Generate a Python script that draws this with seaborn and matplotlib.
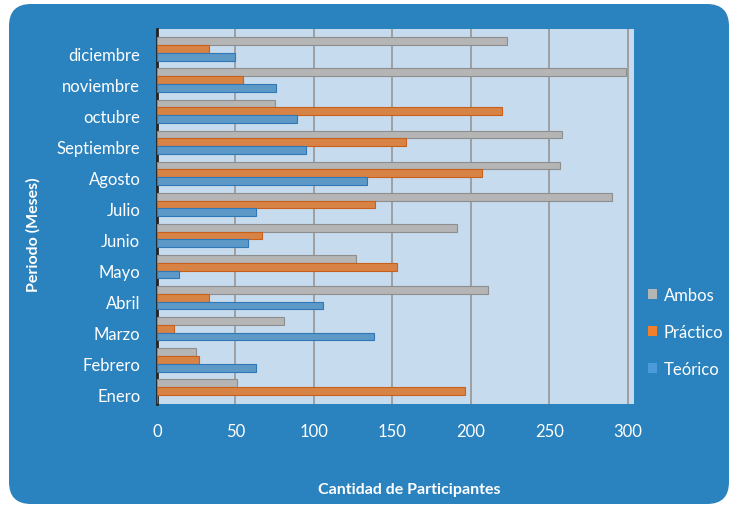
import matplotlib
matplotlib.use('Agg')
import matplotlib.pyplot as plt
import matplotlib.transforms as mtransforms
import seaborn as sns
import pandas as pd
from matplotlib.patches import FancyBboxPatch, Patch

months = ['diciembre', 'noviembre', 'octubre', 'Septiembre', 'Agosto', 'Julio',
          'Junio', 'Mayo', 'Abril', 'Marzo', 'Febrero', 'Enero']
ambos = [223, 299, 75, 258, 257, 290, 191, 127, 211, 81, 25, 51]
practico = [33, 55, 220, 159, 207, 139, 67, 153, 33, 11, 27, 196]
teorico = [50, 76, 89, 95, 134, 63, 58, 14, 106, 138, 63, 0]
series = ['Ambos', 'Práctico', 'Teórico']
xticks = [0, 50, 100, 150, 200, 250, 300]

colors = ['#b5b5b5', '#f07f2e', '#4b9bd9']
edges = ['#8e8e8e', '#c85f1a', '#2f78b5']

df = pd.DataFrame({
    'Mes': months * 3,
    'Serie': [series[0]] * 12 + [series[1]] * 12 + [series[2]] * 12,
    'Valor': ambos + practico + teorico,
})

sns.set_theme(style='white')
plt.rcParams['font.family'] = ['Lato', 'DejaVu Sans']

W, H = 729, 506
fig = plt.figure(figsize=(W / 100, H / 100), dpi=100)
fig.patch.set_facecolor('white')
panel = FancyBboxPatch((9, 1), 720, 500, boxstyle='round,pad=0,rounding_size=22',
                       transform=None, facecolor='#2a82be', edgecolor='none', zorder=-10)
fig.patches.append(panel)

ax = fig.add_axes([157 / W, (H - 405) / H, (634 - 157) / W, (405 - 30) / H])
ax.set_zorder(5)
ax.set_facecolor('#c6dbee')

sns.barplot(data=df, y='Mes', x='Valor', hue='Serie', order=months, hue_order=series,
            palette=colors, width=0.75, gap=0, ax=ax, legend=False, zorder=3)
for cont, ec in zip(ax.containers, edges):
    for bar in cont:
        bar.set_edgecolor(ec)
        bar.set_linewidth(0.8)

ax.set_xlim(0, 304)
ax.set_ylim(11.42, -0.645)
ax.set_xticks(xticks)
ax.set_xticklabels([str(v) for v in xticks])
ax.xaxis.grid(True, color='#9a9a9a', linewidth=1.3, zorder=1)
ax.yaxis.grid(False)
ax.set_axisbelow(True)
for s in ['top', 'right', 'bottom']:
    ax.spines[s].set_visible(False)
ax.spines['left'].set_color('#222222')
ax.spines['left'].set_linewidth(2)

ax.tick_params(axis='y', length=0, pad=12, labelsize=12, labelcolor='white')
ax.tick_params(axis='x', length=0, pad=14, labelsize=12, labelcolor='white')

offset = mtransforms.ScaledTranslation(0, -4 / 100, fig.dpi_scale_trans)
for lab in ax.get_yticklabels():
    lab.set_transform(lab.get_transform() + offset)

ax.set_ylabel('')
ax.set_xlabel('')
fig.text(409 / W, 1 - 490 / H, 'Cantidad de Participantes', ha='center', va='center',
         color='white', fontsize=11.5, fontweight='bold')
fig.text(33 / W, 1 - 235 / H, 'Periodo (Meses)', ha='center', va='center', rotation=90,
         color='white', fontsize=11.5, fontweight='bold')

handles = [Patch(facecolor=c, edgecolor='none') for c in colors]
leg = fig.legend(handles, series, loc='center left', bbox_to_anchor=(648 / W, 1 - 333 / H),
                 frameon=False, fontsize=12, handlelength=0.55, handleheight=0.55,
                 handletextpad=0.4, labelspacing=1.25, borderpad=0, borderaxespad=0)
for t in leg.get_texts():
    t.set_color('white')

fig.savefig('out.png', dpi=100)
